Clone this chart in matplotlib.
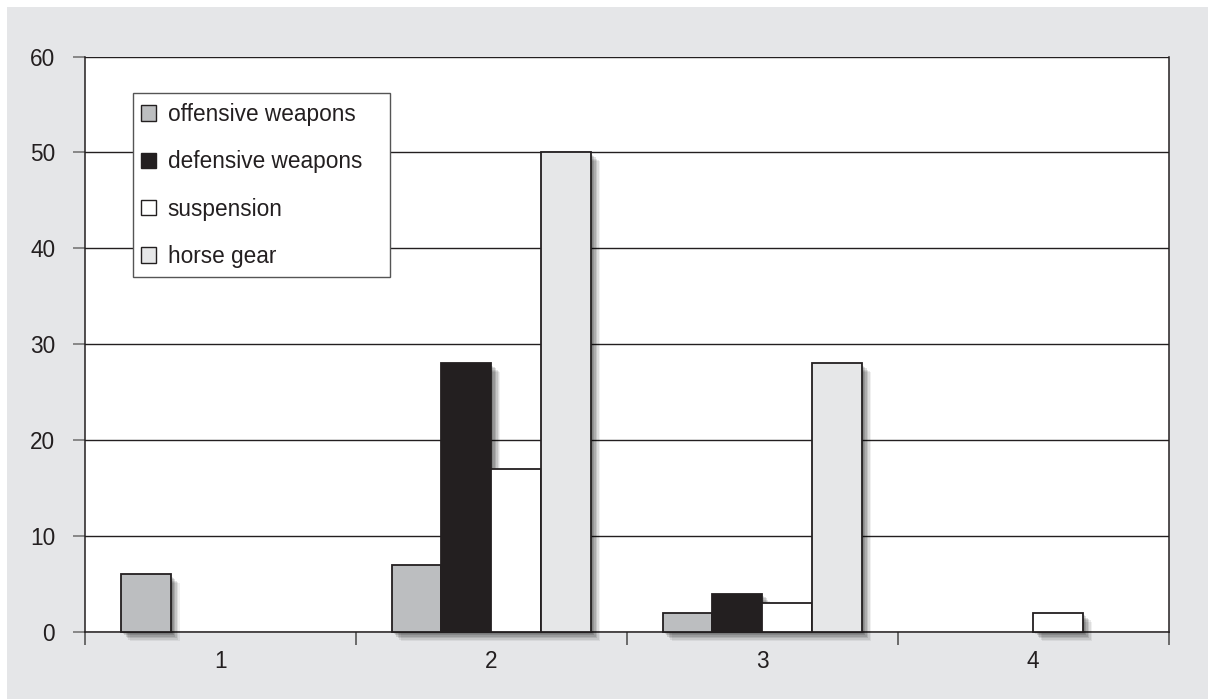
import matplotlib
matplotlib.use("Agg")
import matplotlib.pyplot as plt
import matplotlib.patheffects as pe
from matplotlib.patches import Rectangle
import numpy as np

categories = ["1", "2", "3", "4"]
series_names = ["offensive weapons", "defensive weapons", "suspension", "horse gear"]
offensive = [6, 7, 2, 0]
defensive = [0, 28, 4, 0]
suspension = [0, 17, 3, 2]
horse_gear = [0, 50, 28, 0]
yticks = [0, 10, 20, 30, 40, 50, 60]

colors = ["#bcbec0", "#231f20", "#ffffff", "#e6e7e8"]
dark = "#231f20"
plt.rcParams['font.family'] = ['Liberation Sans', 'DejaVu Sans']
FS = 16.3

fig = plt.figure(figsize=(12.08, 6.99), dpi=100, facecolor="white")
bg = Rectangle((7/1208, 0), 1 - 7/1208, 692/699, transform=fig.transFigure,
               facecolor="#e5e6e8", edgecolor="none", zorder=-10)
fig.patches.append(bg)
ax = fig.add_axes([85/1208, 67/699, 1083.5/1208, 575.5/699])
ax.set_zorder(1)
ax.set_facecolor("white")

x = np.arange(len(categories))
w = 0.184
data = [offensive, defensive, suspension, horse_gear]
shadow = [pe.SimplePatchShadow(offset=(o, -o), shadow_rgbFace="#000000", alpha=a)
          for o, a in [(6.5, 0.06), (5.5, 0.08), (4.5, 0.1), (3.5, 0.12), (2.5, 0.13), (1.5, 0.1)]]
for i, (vals, c, name) in enumerate(zip(data, colors, series_names)):
    xs = [xi + (i - 1.5) * w for xi, v in zip(x, vals) if v > 0]
    vs = [v for v in vals if v > 0]
    bars = ax.bar(xs, vs, width=w, color=c, edgecolor=dark, linewidth=1.3,
                  zorder=3, label=name)
    for b in bars:
        b.set_clip_on(False)
        b.set_path_effects(shadow + [pe.Normal()])

ax.set_xlim(-0.5, 3.5)
ax.set_ylim(0, 60)
ax.set_yticks(yticks)
ax.set_yticklabels([str(t) for t in yticks], fontsize=FS, color=dark)
ax.yaxis.grid(True, color=dark, linewidth=1.0, zorder=1)
ax.set_axisbelow(True)
ax.tick_params(axis='y', length=9, width=1.2, color="#777777", pad=12.5)
ax.set_xticks(x)
ax.set_xticklabels(categories, fontsize=FS, color=dark)
ax.tick_params(axis='x', which='major', length=0, pad=13)
ax.set_xticks(np.arange(-0.5, 4.0, 1.0), minor=True)
ax.tick_params(axis='x', which='minor', length=9, width=1.2, color="#555555")
for s in ax.spines.values():
    s.set_color(dark)
    s.set_linewidth(1.1)
ax.spines['top'].set_visible(False)

# legend frame (box is wider than its content in the reference)
lx0, lx1 = (133 - 85) / 1083.5, (390 - 85) / 1083.5
ly0, ly1 = (632 - 277) / 575.5, (632 - 93) / 575.5
ax.add_patch(Rectangle((lx0, ly0), lx1 - lx0, ly1 - ly0, transform=ax.transAxes,
                       facecolor="white", edgecolor="#555555", linewidth=1.0, zorder=5))
leg = ax.legend(loc="upper left", bbox_to_anchor=(lx0 - 0.001, ly1 - 0.002), fontsize=FS,
                frameon=False, handlelength=0.68, handleheight=0.68, handletextpad=0.5,
                labelspacing=1.07, borderpad=0.4, borderaxespad=0)
leg.set_zorder(6)
for t in leg.get_texts():
    t.set_color(dark)
for h in leg.legend_handles:
    h.set_path_effects([])
    h.set_linewidth(1.0)

fig.savefig("out.png", dpi=100, facecolor=fig.get_facecolor())
